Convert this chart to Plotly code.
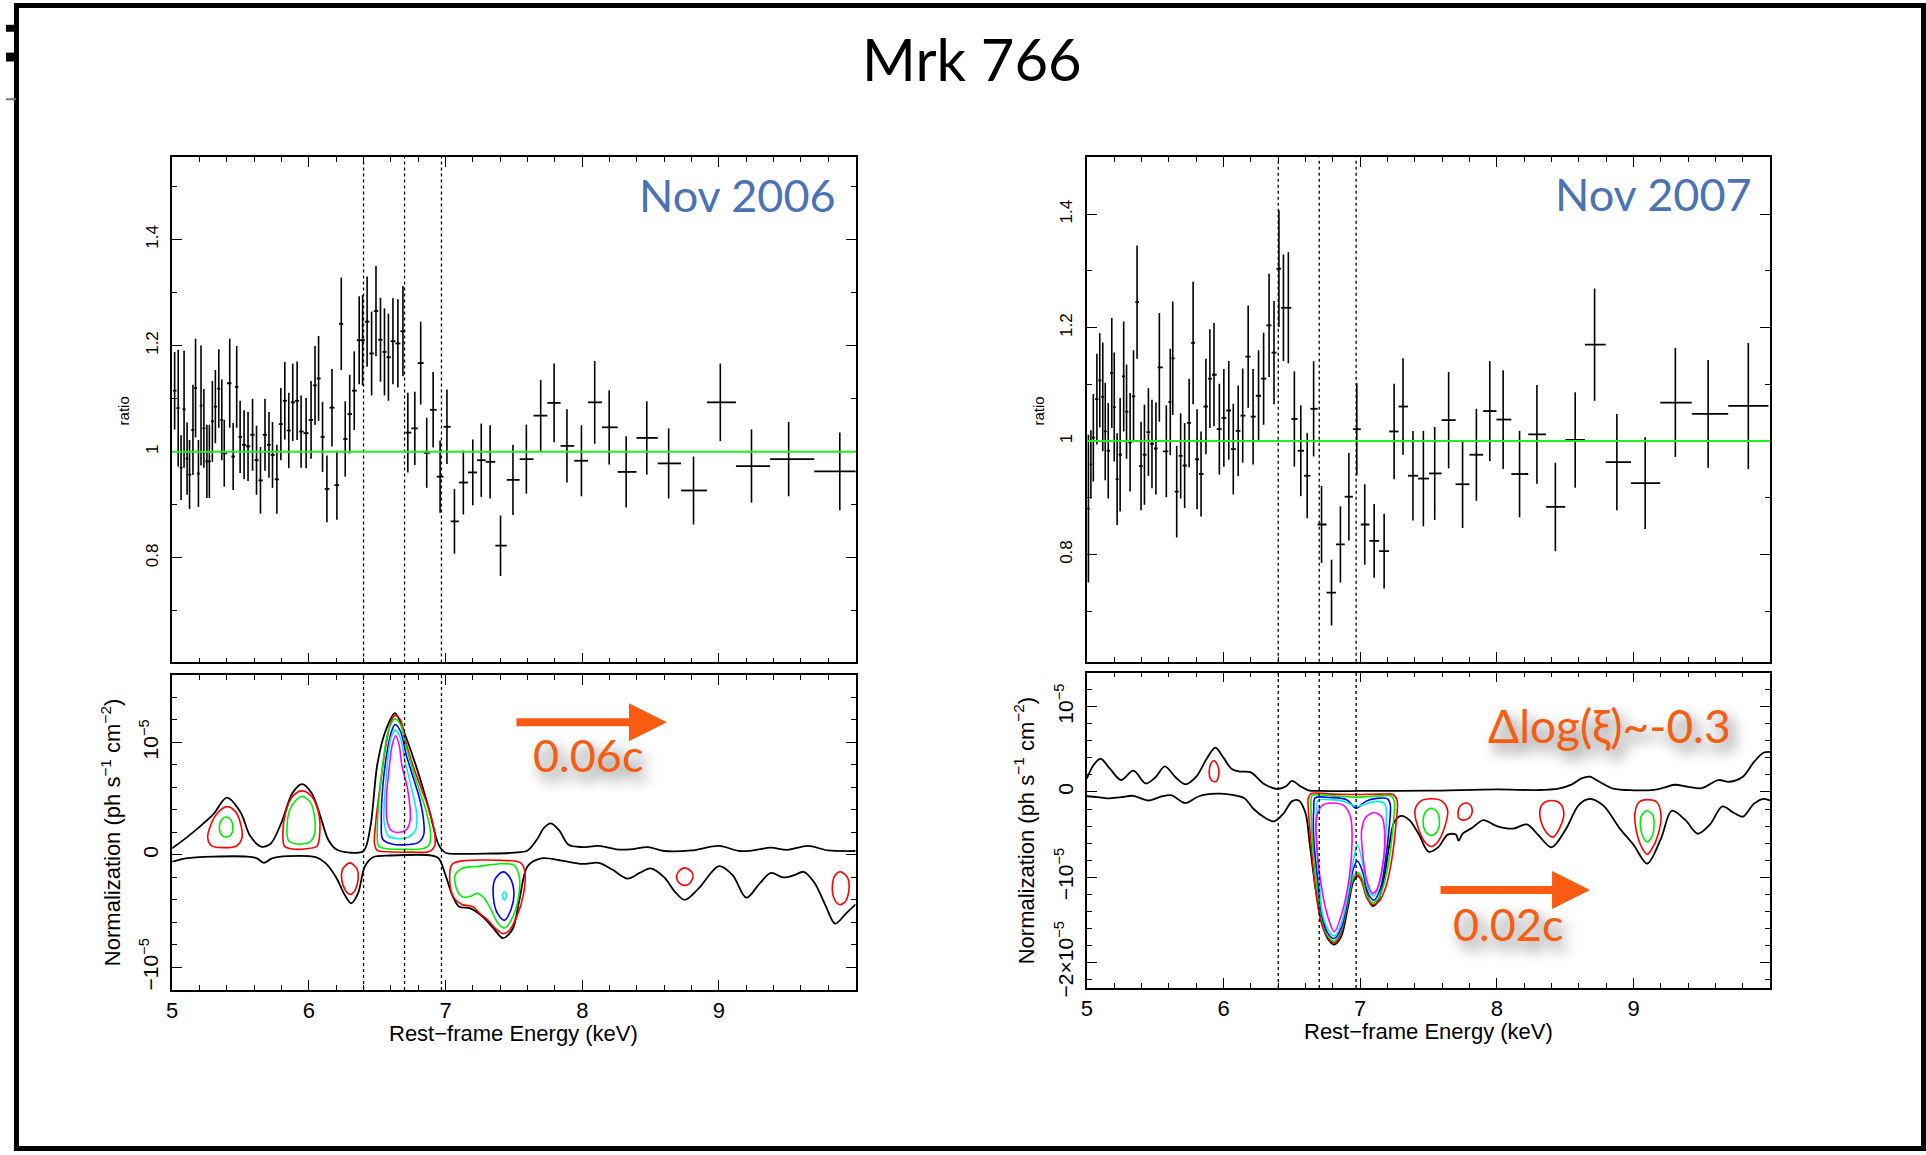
import plotly.graph_objects as go

W, H = 1926, 1155

# ---------------- ratio spectra (data / model) ----------------
energy_2006 = [5.018, 5.044, 5.065, 5.087, 5.109, 5.127, 5.152, 5.171, 5.192, 5.211,
               5.232, 5.254, 5.272, 5.294, 5.316, 5.341, 5.363, 5.381, 5.421, 5.446,
               5.472, 5.497, 5.526, 5.555, 5.588, 5.617, 5.646, 5.679, 5.708, 5.734,
               5.766, 5.795, 5.824, 5.853, 5.882, 5.914, 5.943, 5.980, 6.016, 6.045,
               6.071, 6.100, 6.132, 6.169, 6.205, 6.237, 6.266, 6.299, 6.332, 6.368,
               6.393, 6.426, 6.459, 6.491, 6.524, 6.553, 6.582, 6.615, 6.651, 6.688,
               6.724, 6.775, 6.818, 6.862, 6.909, 6.960, 7.010, 7.065, 7.130, 7.199,
               7.261, 7.326, 7.402, 7.493, 7.591, 7.696, 7.794, 7.888, 7.994, 8.091,
               8.197, 8.321, 8.472, 8.632, 8.814, 9.010, 9.238, 9.510, 9.884]
ratio_2006 = [1.115, 1.082, 0.970, 1.080, 0.987, 0.957, 1.041, 1.120, 0.959, 1.087,
              1.044, 0.982, 0.982, 1.057, 1.085, 1.119, 1.060, 0.997, 1.129, 0.991,
              1.122, 1.028, 1.013, 1.010, 1.032, 0.984, 0.946, 1.032, 1.013, 0.994,
              0.948, 1.052, 1.096, 1.040, 1.093, 1.096, 1.038, 1.035, 1.060, 1.125,
              1.138, 1.028, 0.930, 1.083, 0.937, 1.241, 1.024, 1.071, 1.115, 1.210,
              1.210, 1.245, 1.185, 1.265, 1.211, 1.188, 1.178, 1.208, 1.204, 1.227,
              1.036, 1.044, 1.167, 0.998, 1.079, 0.953, 1.047, 0.869, 0.942, 0.961,
              0.984, 0.981, 0.823, 0.947, 0.986, 1.068, 1.092, 1.011, 0.983, 1.093,
              1.046, 0.962, 1.026, 0.978, 0.927, 1.093, 0.973, 0.986, 0.963]
ratio_err_2006 = [0.073, 0.110, 0.061, 0.110, 0.068, 0.065, 0.085, 0.093, 0.063, 0.113,
                  0.074, 0.069, 0.069, 0.076, 0.069, 0.074, 0.076, 0.063, 0.084, 0.063,
                  0.077, 0.068, 0.065, 0.065, 0.068, 0.065, 0.063, 0.068, 0.062, 0.062,
                  0.065, 0.068, 0.073, 0.071, 0.073, 0.074, 0.068, 0.066, 0.073, 0.074,
                  0.080, 0.066, 0.063, 0.073, 0.065, 0.087, 0.071, 0.074, 0.074, 0.083,
                  0.085, 0.085, 0.079, 0.085, 0.079, 0.082, 0.082, 0.081, 0.083, 0.085,
                  0.075, 0.069, 0.078, 0.066, 0.071, 0.068, 0.070, 0.061, 0.060, 0.062,
                  0.069, 0.069, 0.057, 0.066, 0.065, 0.067, 0.074, 0.069, 0.067, 0.078,
                  0.070, 0.067, 0.069, 0.066, 0.064, 0.073, 0.069, 0.070, 0.073]

energy_2007 = [5.011, 5.029, 5.047, 5.073, 5.094, 5.116, 5.134, 5.156, 5.182, 5.200,
               5.221, 5.243, 5.269, 5.290, 5.316, 5.341, 5.367, 5.396, 5.421, 5.450,
               5.476, 5.505, 5.530, 5.581, 5.610, 5.628, 5.657, 5.686, 5.715, 5.748,
               5.777, 5.806, 5.835, 5.871, 5.900, 5.930, 5.969, 6.002, 6.038, 6.071,
               6.107, 6.140, 6.180, 6.216, 6.256, 6.293, 6.333, 6.369, 6.405, 6.438,
               6.474, 6.518, 6.565, 6.612, 6.659, 6.717, 6.790, 6.855, 6.917, 6.975,
               7.033, 7.102, 7.175, 7.248, 7.313, 7.386, 7.462, 7.545, 7.647, 7.749,
               7.850, 7.948, 8.046, 8.166, 8.293, 8.428, 8.573, 8.715, 8.878, 9.085,
               9.306, 9.546, 9.840]
ratio_2007 = [0.881, 0.959, 1.006, 1.074, 1.107, 1.078, 1.017, 0.983, 1.120, 1.060,
              0.933, 0.976, 1.114, 1.052, 0.998, 1.079, 1.245, 0.956, 0.976, 1.016,
              0.995, 0.987, 1.130, 0.982, 1.069, 1.146, 0.911, 0.974, 0.957, 1.032,
              1.173, 0.968, 0.942, 1.061, 1.110, 1.117, 1.021, 1.041, 1.054, 0.986,
              1.018, 1.045, 1.149, 1.043, 1.080, 1.110, 1.204, 1.156, 1.304, 1.235,
              1.235, 1.039, 0.983, 0.939, 1.057, 0.853, 0.733, 0.818, 0.902, 1.021,
              0.853, 0.824, 0.806, 1.017, 1.061, 0.939, 0.934, 0.943, 1.037, 0.924,
              0.976, 1.053, 1.038, 0.942, 1.012, 0.884, 1.002, 1.170, 0.963, 0.926,
              1.068, 1.048, 1.062]
ratio_err_2007 = [0.130, 0.060, 0.077, 0.080, 0.083, 0.096, 0.086, 0.084, 0.097, 0.096,
                  0.081, 0.100, 0.097, 0.083, 0.087, 0.081, 0.100, 0.078, 0.088, 0.077,
                  0.078, 0.081, 0.096, 0.081, 0.094, 0.100, 0.081, 0.075, 0.075, 0.078,
                  0.108, 0.088, 0.075, 0.084, 0.087, 0.091, 0.080, 0.086, 0.087, 0.080,
                  0.080, 0.083, 0.090, 0.084, 0.080, 0.081, 0.091, 0.091, 0.103, 0.094,
                  0.098, 0.084, 0.080, 0.075, 0.084, 0.068, 0.058, 0.067, 0.077, 0.081,
                  0.071, 0.065, 0.066, 0.084, 0.085, 0.079, 0.084, 0.082, 0.085, 0.077,
                  0.081, 0.088, 0.087, 0.076, 0.087, 0.078, 0.084, 0.099, 0.085, 0.081,
                  0.096, 0.095, 0.111]

# Fe K rest-frame line energies (keV)
line_energies = [6.40, 6.70, 6.97]

# ---------------- line-scan confidence contours (units of 1e-5 ph/s/cm2) ----------------
NORM_UNIT = 1e-5

env06_up_e = [5.0, 5.1, 5.2, 5.3, 5.4, 5.5, 5.57, 5.65, 5.72, 5.8, 5.88, 5.95, 6.02, 6.08,
              6.14, 6.2, 6.3, 6.4, 6.45, 6.5, 6.56, 6.63, 6.7, 6.8, 6.88, 6.95, 7.0, 7.1,
              7.3, 7.5, 7.6, 7.67, 7.72, 7.77, 7.83, 7.9, 8.0, 8.12, 8.25, 8.35, 8.48, 8.6,
              8.8, 9.0, 9.15, 9.25, 9.38, 9.5, 9.65, 9.8, 10.0]
env06_up_n = [0.06, 0.15, 0.25, 0.36, 0.51, 0.38, 0.17, 0.075, 0.10, 0.29, 0.55, 0.63, 0.55,
              0.36, 0.14, 0.05, 0.02, 0.035, 0.25, 0.80, 1.10, 1.26, 1.08, 0.73, 0.40, 0.09,
              0.02, 0.01, 0.012, 0.02, 0.04, 0.14, 0.24, 0.28, 0.22, 0.09, 0.07, 0.08, 0.05,
              0.05, 0.07, 0.035, 0.04, 0.08, 0.035, 0.04, 0.065, 0.045, 0.08, 0.04, 0.035]
env06_lo_e = [5.0, 5.1, 5.3, 5.55, 5.62, 5.67, 5.73, 5.85, 6.05, 6.12, 6.2, 6.26, 6.31, 6.36,
              6.41, 6.47, 6.6, 6.9, 6.95, 7.0, 7.05, 7.1, 7.17, 7.22, 7.28, 7.35, 7.42, 7.49,
              7.54, 7.6, 7.7, 7.85, 8.0, 8.12, 8.22, 8.33, 8.42, 8.5, 8.6, 8.68, 8.75, 8.85,
              9.0, 9.1, 9.2, 9.3, 9.38, 9.47, 9.55, 9.62, 9.7, 9.78, 9.85, 9.93, 10.0]
env06_lo_n = [-0.06, -0.03, -0.015, -0.015, -0.03, -0.07, -0.03, -0.01, -0.02, -0.07, -0.2,
              -0.35, -0.43, -0.34, -0.1, -0.02, -0.005, -0.005, -0.03, -0.18, -0.36, -0.46,
              -0.47, -0.5, -0.56, -0.65, -0.74, -0.66, -0.4, -0.1, -0.03, -0.05, -0.08,
              -0.07, -0.13, -0.21, -0.16, -0.12, -0.2, -0.33, -0.40, -0.3, -0.10, -0.18,
              -0.38, -0.25, -0.16, -0.2, -0.18, -0.15, -0.25, -0.45, -0.61, -0.52, -0.44]

c06_red_a = [(5.40, 0.43), (5.46, 0.39), (5.50, 0.28), (5.51, 0.15), (5.47, 0.08), (5.38, 0.065),
             (5.29, 0.08), (5.26, 0.15), (5.28, 0.26), (5.33, 0.37), (5.40, 0.43)]
c06_green_a = [(5.395, 0.34), (5.43, 0.31), (5.445, 0.25), (5.43, 0.18), (5.395, 0.16),
               (5.36, 0.18), (5.345, 0.25), (5.36, 0.31), (5.395, 0.34)]
c06_red_b = [(5.95, 0.57), (6.02, 0.52), (6.07, 0.38), (6.08, 0.2), (6.06, 0.08), (5.98, 0.055),
             (5.87, 0.055), (5.82, 0.08), (5.81, 0.2), (5.83, 0.38), (5.88, 0.52), (5.95, 0.57)]
c06_green_b = [(5.95, 0.52), (6.01, 0.47), (6.04, 0.35), (6.04, 0.18), (6.0, 0.11), (5.9, 0.10),
               (5.85, 0.13), (5.84, 0.25), (5.86, 0.4), (5.9, 0.48), (5.95, 0.52)]
c06_red_c = [(6.63, 1.24), (6.67, 1.2), (6.71, 1.0), (6.76, 0.8), (6.82, 0.6), (6.88, 0.4),
             (6.92, 0.2), (6.92, 0.08), (6.88, 0.03), (6.75, 0.025), (6.58, 0.028), (6.5, 0.04),
             (6.48, 0.1), (6.49, 0.3), (6.52, 0.6), (6.56, 0.95), (6.6, 1.18), (6.63, 1.24)]
c06_green_c = [(6.63, 1.21), (6.67, 1.16), (6.71, 0.97), (6.76, 0.76), (6.81, 0.57), (6.86, 0.38),
               (6.89, 0.2), (6.88, 0.09), (6.83, 0.055), (6.7, 0.05), (6.57, 0.055), (6.51, 0.08),
               (6.50, 0.2), (6.51, 0.45), (6.54, 0.8), (6.58, 1.1), (6.63, 1.21)]
c06_blue_c = [(6.63, 1.16), (6.67, 1.1), (6.71, 0.9), (6.76, 0.7), (6.81, 0.5), (6.84, 0.3),
              (6.84, 0.18), (6.8, 0.11), (6.7, 0.09), (6.6, 0.1), (6.54, 0.14), (6.53, 0.3),
              (6.54, 0.6), (6.57, 0.9), (6.6, 1.08), (6.63, 1.16)]
c06_cyan_c = [(6.63, 1.11), (6.67, 1.04), (6.7, 0.85), (6.75, 0.6), (6.79, 0.35), (6.78, 0.22),
              (6.73, 0.16), (6.65, 0.145), (6.58, 0.17), (6.55, 0.3), (6.56, 0.6), (6.58, 0.88),
              (6.6, 1.04), (6.63, 1.11)]
c06_magenta_c = [(6.635, 1.06), (6.66, 0.98), (6.68, 0.8), (6.72, 0.6), (6.74, 0.42), (6.74, 0.3),
                 (6.71, 0.22), (6.65, 0.2), (6.6, 0.22), (6.57, 0.32), (6.57, 0.55), (6.59, 0.8),
                 (6.61, 0.98), (6.635, 1.06)]
c06_red_d = [(7.05, -0.08), (7.15, -0.05), (7.3, -0.045), (7.45, -0.05), (7.55, -0.07),
             (7.58, -0.15), (7.57, -0.35), (7.52, -0.55), (7.46, -0.68), (7.42, -0.70),
             (7.37, -0.66), (7.31, -0.58), (7.25, -0.52), (7.2, -0.46), (7.12, -0.44),
             (7.06, -0.38), (7.03, -0.22), (7.05, -0.08)]
c06_green_d = [(7.12, -0.12), (7.25, -0.10), (7.38, -0.08), (7.5, -0.09), (7.54, -0.2),
               (7.53, -0.4), (7.48, -0.58), (7.43, -0.65), (7.38, -0.6), (7.33, -0.48),
               (7.28, -0.38), (7.23, -0.34), (7.18, -0.37), (7.12, -0.37), (7.08, -0.3),
               (7.07, -0.18), (7.12, -0.12)]
c06_blue_d = [(7.42, -0.15), (7.47, -0.2), (7.5, -0.33), (7.48, -0.48), (7.43, -0.58),
              (7.38, -0.52), (7.35, -0.38), (7.36, -0.22), (7.42, -0.15)]
c06_cyan_d = [(7.43, -0.33), (7.445, -0.36), (7.43, -0.40), (7.415, -0.36), (7.43, -0.33)]
c06_red_e = [(6.30, -0.07), (6.35, -0.12), (6.36, -0.22), (6.33, -0.33), (6.30, -0.35),
             (6.27, -0.32), (6.24, -0.22), (6.25, -0.12), (6.30, -0.07)]
c06_red_f = [(8.75, -0.115), (8.80, -0.15), (8.81, -0.2), (8.78, -0.26), (8.75, -0.27),
             (8.71, -0.25), (8.69, -0.19), (8.71, -0.14), (8.75, -0.115)]
c06_red_g = [(9.89, -0.15), (9.94, -0.2), (9.95, -0.32), (9.92, -0.42), (9.88, -0.44),
             (9.84, -0.38), (9.83, -0.27), (9.85, -0.18), (9.89, -0.15)]

env07_up_e = [5.0, 5.05, 5.1, 5.17, 5.25, 5.34, 5.43, 5.5, 5.57, 5.65, 5.72, 5.8, 5.88, 5.94,
              6.0, 6.06, 6.12, 6.2, 6.3, 6.4, 6.46, 6.5, 6.56, 6.62, 6.7, 7.0, 7.5, 8.0, 8.3,
              8.45, 8.55, 8.62, 8.68, 8.75, 8.85, 9.0, 9.15, 9.22, 9.3, 9.4, 9.5, 9.62, 9.7,
              9.8, 9.88, 9.95, 10.0]
env07_up_n = [0.16, 0.32, 0.39, 0.27, 0.14, 0.25, 0.10, 0.17, 0.30, 0.17, 0.09, 0.18, 0.40,
              0.52, 0.40, 0.27, 0.24, 0.23, 0.09, 0.035, 0.07, 0.13, 0.07, 0.02, 0.012, 0.012,
              0.015, 0.03, 0.023, 0.04, 0.09, 0.16, 0.18, 0.12, 0.04, 0.02, 0.025, 0.05, 0.085,
              0.06, 0.045, 0.14, 0.12, 0.18, 0.35, 0.46, 0.47]
env07_lo_e = [5.0, 5.08, 5.15, 5.25, 5.34, 5.45, 5.55, 5.62, 5.72, 5.82, 5.95, 6.05, 6.15,
              6.22, 6.3, 6.37, 6.44, 6.5, 6.55, 6.6, 6.63, 6.67, 6.72, 6.77, 6.81, 6.86, 6.91,
              6.95, 6.98, 7.02, 7.06, 7.09, 7.13, 7.17, 7.21, 7.25, 7.3, 7.36, 7.43, 7.5, 7.57,
              7.64, 7.7, 7.72, 7.75, 7.82, 7.9, 8.0, 8.12, 8.22, 8.3, 8.4, 8.5, 8.6, 8.68,
              8.78, 8.9, 9.0, 9.1, 9.2, 9.28, 9.38, 9.47, 9.56, 9.65, 9.73, 9.8, 9.88, 9.95, 10.0]
env07_lo_n = [-0.05, -0.06, -0.075, -0.06, -0.045, -0.10, -0.05, -0.04, -0.13, -0.05, -0.02,
              -0.03, -0.07, -0.2, -0.3, -0.345, -0.25, -0.11, -0.1, -0.25, -0.6, -1.1, -1.55,
              -1.74, -1.79, -1.7, -1.35, -1.05, -0.99, -1.05, -1.25, -1.34, -1.28, -1.05,
              -0.65, -0.35, -0.28, -0.33, -0.5, -0.7, -0.65, -0.5, -0.5, -0.57, -0.49, -0.42,
              -0.33, -0.4, -0.43, -0.38, -0.5, -0.65, -0.45, -0.15, -0.08, -0.16, -0.43,
              -0.62, -0.84, -0.55, -0.22, -0.33, -0.49, -0.38, -0.17, -0.24, -0.29, -0.14,
              -0.08, -0.10]

c07_red_a = [(5.93, 0.37), (5.96, 0.3), (5.965, 0.2), (5.95, 0.13), (5.93, 0.12), (5.905, 0.15),
             (5.895, 0.25), (5.91, 0.34), (5.93, 0.37)]
c07_red_b = [(6.64, -0.02), (6.8, -0.025), (6.98, -0.03), (7.15, -0.025), (7.24, -0.03),
             (7.27, -0.1), (7.26, -0.4), (7.23, -0.8), (7.19, -1.1), (7.14, -1.28), (7.09, -1.32),
             (7.05, -1.25), (7.01, -1.05), (6.98, -0.97), (6.95, -1.02), (6.91, -1.3),
             (6.86, -1.65), (6.81, -1.77), (6.76, -1.7), (6.71, -1.5), (6.67, -1.1),
             (6.64, -0.6), (6.62, -0.2), (6.62, -0.07), (6.64, -0.02)]
c07_green_b = [(6.65, -0.04), (6.8, -0.045), (6.98, -0.06), (7.15, -0.045), (7.23, -0.05),
               (7.25, -0.12), (7.24, -0.4), (7.21, -0.8), (7.17, -1.1), (7.13, -1.26),
               (7.09, -1.30), (7.05, -1.22), (7.01, -1.0), (6.98, -0.945), (6.95, -1.0),
               (6.91, -1.28), (6.86, -1.62), (6.81, -1.75), (6.76, -1.68), (6.72, -1.48),
               (6.68, -1.08), (6.65, -0.6), (6.64, -0.2), (6.64, -0.08), (6.65, -0.04)]
c07_blue_b = [(6.67, -0.07), (6.78, -0.065), (6.9, -0.09), (6.97, -0.19), (7.04, -0.11),
              (7.12, -0.075), (7.2, -0.08), (7.22, -0.15), (7.21, -0.45), (7.18, -0.85),
              (7.15, -1.12), (7.1, -1.27), (7.06, -1.2), (7.02, -0.95), (6.98, -0.81),
              (6.95, -0.9), (6.91, -1.25), (6.86, -1.6), (6.81, -1.72), (6.76, -1.65),
              (6.72, -1.45), (6.69, -1.05), (6.66, -0.55), (6.66, -0.2), (6.67, -0.07)]
c07_cyan_b = [(6.69, -0.1), (6.78, -0.09), (6.88, -0.11), (6.95, -0.16), (6.98, -0.17),
              (7.04, -0.14), (7.12, -0.11), (7.18, -0.14), (7.19, -0.4), (7.17, -0.8),
              (7.14, -1.08), (7.1, -1.22), (7.06, -1.15), (7.02, -0.85), (6.98, -0.62),
              (6.95, -0.8), (6.91, -1.2), (6.86, -1.55), (6.81, -1.69), (6.76, -1.6),
              (6.72, -1.4), (6.7, -1.0), (6.68, -0.5), (6.68, -0.2), (6.69, -0.1)]
c07_magenta_b1 = [(6.8, -0.13), (6.88, -0.16), (6.93, -0.3), (6.94, -0.6), (6.92, -1.0),
                  (6.87, -1.4), (6.81, -1.64), (6.76, -1.45), (6.71, -1.05), (6.68, -0.6),
                  (6.68, -0.3), (6.72, -0.16), (6.8, -0.13)]
c07_magenta_b2 = [(7.1, -0.24), (7.16, -0.3), (7.18, -0.55), (7.16, -0.9), (7.12, -1.15),
                  (7.09, -1.19), (7.05, -1.05), (7.02, -0.75), (7.01, -0.45), (7.04, -0.3),
                  (7.1, -0.24)]
c07_red_c = [(7.52, -0.08), (7.6, -0.11), (7.64, -0.22), (7.62, -0.4), (7.57, -0.58),
             (7.52, -0.64), (7.47, -0.58), (7.42, -0.4), (7.40, -0.22), (7.44, -0.11), (7.52, -0.08)]
c07_green_c = [(7.52, -0.19), (7.56, -0.23), (7.58, -0.35), (7.56, -0.47), (7.52, -0.51),
               (7.48, -0.47), (7.46, -0.35), (7.48, -0.23), (7.52, -0.19)]
c07_red_d = [(7.78, -0.13), (7.81, -0.16), (7.82, -0.23), (7.8, -0.3), (7.75, -0.33),
             (7.72, -0.3), (7.72, -0.2), (7.74, -0.15), (7.78, -0.13)]
c07_red_e = [(8.4, -0.10), (8.46, -0.13), (8.49, -0.25), (8.46, -0.42), (8.41, -0.53),
             (8.36, -0.47), (8.32, -0.33), (8.32, -0.18), (8.35, -0.12), (8.4, -0.10)]
c07_red_f = [(9.1, -0.09), (9.17, -0.12), (9.2, -0.25), (9.18, -0.5), (9.13, -0.68),
             (9.1, -0.73), (9.06, -0.65), (9.02, -0.45), (9.01, -0.25), (9.04, -0.12), (9.1, -0.09)]
c07_green_f = [(9.1, -0.22), (9.14, -0.27), (9.15, -0.4), (9.13, -0.54), (9.1, -0.585),
               (9.07, -0.53), (9.05, -0.4), (9.06, -0.27), (9.1, -0.22)]

# ---------------- styling ----------------
AXIS_FONT = "Liberation Sans, Arial, sans-serif"
SLIDE_FONT = "Lato, 'Open Sans', sans-serif"
ORANGE = "#f95b10"
BLUE = "#4a72b5"
GREEN_LINE = "#22ee22"
CONTOUR_COLORS = {"red": "#ff0000", "green": "#00ee00", "blue": "#0000ff",
                  "cyan": "#00eeee", "magenta": "#ff00ff"}
SHADOW = "6px 8px 14px rgba(0,0,0,0.6)"

fig = go.Figure()


def bin_widths(centers):
    """Contiguous bin half-widths: edges at midpoints between neighbouring centres."""
    edges = [centers[0] - (centers[1] - centers[0]) / 2]
    edges += [(a + b) / 2 for a, b in zip(centers[:-1], centers[1:])]
    edges.append(centers[-1] + (centers[-1] - centers[-2]) / 2)
    plus = [edges[i + 1] - c for i, c in enumerate(centers)]
    minus = [c - edges[i] for i, c in enumerate(centers)]
    return plus, minus


def add_ratio(energy, ratio, err, xa, ya):
    plus, minus = bin_widths(energy)
    fig.add_trace(go.Scatter(
        x=energy, y=ratio, mode="markers", xaxis=xa, yaxis=ya,
        marker=dict(size=1, color="black", opacity=0),
        error_y=dict(type="data", array=err, visible=True, color="black", thickness=1.6, width=0),
        error_x=dict(type="data", array=plus, arrayminus=minus, symmetric=False, visible=True,
                     color="black", thickness=1.8, width=0),
        showlegend=False, hoverinfo="skip"))


def add_curve(xs, ys, color, xa, ya, width=1.8):
    fig.add_trace(go.Scatter(
        x=xs, y=[v * NORM_UNIT for v in ys], mode="lines", xaxis=xa, yaxis=ya,
        line=dict(color=color, width=width, shape="spline", smoothing=0.9),
        showlegend=False, hoverinfo="skip"))


def add_loop(points, color, xa, ya):
    add_curve([p[0] for p in points], [p[1] for p in points], CONTOUR_COLORS[color], xa, ya, 1.6)


add_ratio(energy_2006, ratio_2006, ratio_err_2006, "x", "y")
add_ratio(energy_2007, ratio_2007, ratio_err_2007, "x3", "y3")

add_curve(env06_up_e, env06_up_n, "black", "x2", "y2")
add_curve(env06_lo_e, env06_lo_n, "black", "x2", "y2")
add_curve(env07_up_e, env07_up_n, "black", "x4", "y4")
add_curve(env07_lo_e, env07_lo_n, "black", "x4", "y4")

loops_2006 = [(c06_red_a, "red"), (c06_green_a, "green"), (c06_red_b, "red"), (c06_green_b, "green"),
              (c06_red_c, "red"), (c06_green_c, "green"), (c06_blue_c, "blue"), (c06_cyan_c, "cyan"),
              (c06_magenta_c, "magenta"), (c06_red_d, "red"), (c06_green_d, "green"),
              (c06_blue_d, "blue"), (c06_cyan_d, "cyan"), (c06_red_e, "red"), (c06_red_f, "red"),
              (c06_red_g, "red")]
loops_2007 = [(c07_red_a, "red"), (c07_red_b, "red"), (c07_green_b, "green"), (c07_blue_b, "blue"),
              (c07_cyan_b, "cyan"), (c07_magenta_b1, "magenta"), (c07_magenta_b2, "magenta"),
              (c07_red_c, "red"), (c07_green_c, "green"), (c07_red_d, "red"), (c07_red_e, "red"),
              (c07_red_f, "red"), (c07_green_f, "green")]
for pts, col in loops_2006:
    add_loop(pts, col, "x2", "y2")
for pts, col in loops_2007:
    add_loop(pts, col, "x4", "y4")


# ---------------- axes ----------------
def px(v):
    return v / W


def py(v):
    return 1 - v / H


TICK = dict(ticks="inside", ticklen=10, tickwidth=1.3, tickcolor="black")
MINOR = dict(ticks="inside", ticklen=5, tickwidth=1.3, tickcolor="black", tickmode="linear")


def xaxis(domain, anchor, labels):
    return dict(domain=domain, anchor=anchor, range=[5, 10], showline=True, linecolor="black",
                linewidth=1.5, mirror="allticks", **TICK, tickmode="array",
                tickvals=[5, 6, 7, 8, 9], showticklabels=labels,
                tickfont=dict(family=AXIS_FONT, size=22, color="black"),
                minor=dict(**MINOR, tick0=5, dtick=0.2),
                showgrid=False, zeroline=False)


def yaxis(domain, anchor, rng, vals, texts, minor_dtick, size, standoff):
    return dict(domain=domain, anchor=anchor, range=rng, showline=True, linecolor="black",
                linewidth=1.5, mirror="allticks", **TICK, tickmode="array",
                tickvals=vals, ticktext=texts, tickangle=-90,
                tickfont=dict(family=AXIS_FONT, size=size, color="black"),
                minor=dict(**MINOR, tick0=0, dtick=minor_dtick),
                showgrid=False, zeroline=False, ticklabelstandoff=standoff)


left_x = [px(166.7), px(852.3)]
right_x = [px(1084.3), px(1769.7)]
ratio_vals = [0.8, 1.0, 1.2, 1.4]
ratio_text = ["0.8", "1", "1.2", "1.4"]

fig.update_layout(
    xaxis=xaxis(left_x, "y", False),
    yaxis=yaxis([py(667.7), py(158.3)], "x", [0.603, 1.555], ratio_vals, ratio_text, 0.1, 17, 6),
    xaxis2=xaxis(left_x, "y2", True),
    yaxis2=yaxis([py(997.7), py(680.3)], "x2", [-1.2e-5, 1.6e-5],
                 [-1e-5, 0, 1e-5], ["−10<sup>−5</sup>", "0", "10<sup>−5</sup>"], 2e-6, 21, 4),
    xaxis3=xaxis(right_x, "y3", False),
    yaxis3=yaxis([py(667.0), py(158.7)], "x3", [0.611, 1.5], ratio_vals, ratio_text, 0.1, 17, 6),
    xaxis4=xaxis(right_x, "y4", True),
    yaxis4=yaxis([py(995.7), py(678.0)], "x4", [-2.3e-5, 1.4e-5],
                 [-2e-5, -1e-5, 0, 1e-5],
                 ["−2×10<sup>−5</sup>", "−10<sup>−5</sup>", "0", "10<sup>−5</sup>"], 2e-6, 21, 4),
)

# ---------------- reference lines ----------------
shapes = []
for xa, ya in (("x", "y"), ("x2", "y2"), ("x3", "y3"), ("x4", "y4")):
    for e in line_energies:
        shapes.append(dict(type="line", xref=xa, yref=f"{ya} domain", x0=e, x1=e, y0=0, y1=1,
                           line=dict(color="black", width=1.3, dash="dot")))
for xa, ya in (("x", "y"), ("x3", "y3")):
    shapes.append(dict(type="line", xref=f"{xa} domain", yref=ya, x0=0, x1=1, y0=1, y1=1,
                       line=dict(color=GREEN_LINE, width=2)))

# slide frame
shapes.append(dict(type="rect", xref="paper", yref="paper", x0=px(10.5), x1=px(1923.5),
                   y0=py(1157.5), y1=py(5.5), line=dict(color="black", width=5)))
shapes.append(dict(type="rect", xref="paper", yref="paper", x0=px(0), x1=px(10), y0=py(32),
                   y1=py(25), fillcolor="black", line=dict(width=0)))
shapes.append(dict(type="rect", xref="paper", yref="paper", x0=px(0), x1=px(10), y0=py(62),
                   y1=py(53), fillcolor="black", line=dict(width=0)))
shapes.append(dict(type="line", xref="paper", yref="paper", x0=px(0), x1=px(10), y0=py(100),
                   y1=py(100), line=dict(color="#777777", width=2)))
fig.update_layout(shapes=shapes)

# ---------------- text ----------------
ann = []


def label(text, x, y, size, color="black", family=AXIS_FONT, angle=0, shadow=None):
    font = dict(family=family, size=size, color=color)
    if shadow:
        font["shadow"] = shadow
    ann.append(dict(text=text, xref="paper", yref="paper", x=px(x), y=py(y), showarrow=False,
                    xanchor="center", yanchor="middle", textangle=angle, font=font))


label("Mrk 766", 969, 59, 58, family=SLIDE_FONT)
label("Nov 2006", 734, 197, 45, color=BLUE, family=SLIDE_FONT)
label("Nov 2007", 1653, 196, 45, color=BLUE, family=SLIDE_FONT)

label("ratio", 118, 414, 15, angle=-90)
label("ratio", 1036, 414, 15, angle=-90)
label("Normalization (ph s<sup>−1</sup> cm<sup>−2</sup>)", 106, 839, 22, angle=-90)
label("Normalization (ph s<sup>−1</sup> cm<sup>−2</sup>)", 1022, 837, 22, angle=-90)
label("Rest−frame Energy (keV)", 509.5, 1042, 22)
label("Rest−frame Energy (keV)", 1427, 1040, 22)

label("0.06c", 584, 761, 45, color=ORANGE, family=SLIDE_FONT, shadow=SHADOW)
label("0.02c", 1507, 931, 45, color=ORANGE, family=SLIDE_FONT, shadow=SHADOW)
label("Δlog(ξ)~-0.3", 1609, 731, 46, color=ORANGE, family=SLIDE_FONT, shadow=SHADOW)

# velocity-shift arrows
for head_x, tail_x, yy in ((663, 511, 728), (1589, 1438, 897)):
    ann.append(dict(text="", xref="paper", yref="paper", x=px(head_x), y=py(yy),
                    ax=tail_x - head_x, ay=0, showarrow=True, arrowhead=2, arrowsize=0.95,
                    arrowwidth=8, arrowcolor=ORANGE, standoff=0))

fig.update_layout(
    annotations=ann,
    width=W, height=H, margin=dict(l=0, r=0, t=0, b=0, pad=0),
    paper_bgcolor="white", plot_bgcolor="white", showlegend=False,
)

fig.write_html("out.html")
